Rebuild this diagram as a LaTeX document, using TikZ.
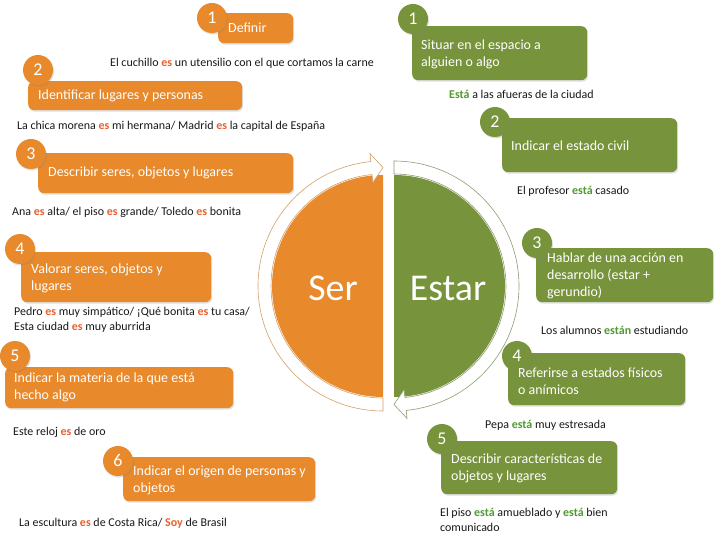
\documentclass[tikz,border=0pt]{standalone}
\usepackage{fontspec}
\setmainfont{Carlito}
\usetikzlibrary{shadows,calc}
\definecolor{sorange}{HTML}{E8892C}
\definecolor{sgreen}{HTML}{77933C}
\definecolor{esred}{HTML}{E8602F}
\definecolor{estagreen}{HTML}{4F9A2E}
\definecolor{otan}{HTML}{D4A068}
\definecolor{golive}{HTML}{8E9C70}
\newcommand{\es}[1]{\textbf{\color{esred}#1}}
\newcommand{\esta}[1]{\textbf{\color{estagreen}#1}}
\tikzset{
  boxbase/.style={anchor=north west, rounded corners=6bp, inner sep=0pt,
    drop shadow={opacity=0.25, shadow xshift=1bp, shadow yshift=-1.5bp}},
  obox/.style={boxbase, fill=sorange},
  gbox/.style={boxbase, fill=sgreen},
  boxtext/.style={anchor=west, inner sep=0pt, text=white, align=left,
    font=\fontsize{14}{17}\selectfont},
  numbase/.style={circle, minimum size=30bp, inner sep=0pt, text=white,
    font=\fontsize{18}{18}\selectfont,
    drop shadow={opacity=0.25, shadow xshift=1bp, shadow yshift=-1.5bp}},
  onum/.style={numbase, fill=sorange},
  gnum/.style={numbase, fill=sgreen},
  example/.style={anchor=west, inner sep=0pt, align=left, text=black!90,
    font=\fontsize{12}{14.5}\selectfont},
  bigword/.style={text=white, font=\fontsize{38}{38}\selectfont},
  band/.style={fill=white, line width=0.6bp}
}
\begin{document}
\begin{tikzpicture}[x=1bp, y=-1bp]
\useasboundingbox (0,0) rectangle (720,540);
\fill[white] (0,0) rectangle (720,540);
% central half discs
\coordinate (cl) at (383,286);
\coordinate (cr) at (394,286);
\fill[sorange] ($(cl)+(270:111)$) arc[start angle=270, end angle=90, radius=111] -- cycle;
\fill[sgreen] ($(cr)+(270:111)$) arc[start angle=-90, end angle=90, radius=111] -- cycle;
% circular arrows
\draw[band, draw=otan] ($(cl)+(90:112)$) -- ($(cl)+(90:125)$)
  arc[start angle=90, end angle=264.4, radius=125]
  -- ($(cl)+(264.4:133)$) -- ($(cl)+(270:118.5)$) -- ($(cl)+(264.4:104)$)
  -- ($(cl)+(264.4:112)$) arc[start angle=264.4, end angle=90, radius=112] -- cycle;
\draw[band, draw=golive] ($(cr)+(270:112)$) -- ($(cr)+(270:125)$)
  arc[start angle=-90, end angle=84.4, radius=125]
  -- ($(cr)+(84.4:133)$) -- ($(cr)+(90:118.5)$) -- ($(cr)+(84.4:104)$)
  -- ($(cr)+(84.4:112)$) arc[start angle=84.4, end angle=-90, radius=112] -- cycle;
\node[bigword] (ser) at (333,288) {Ser};
\node[bigword] (estar) at (448,288) {Estar};
% orange boxes and number circles
\node[obox, minimum width=75bp, minimum height=30bp] (o1) at (218,13) {};
\node[onum] (n1) at (212,18) {1};
\node[obox, minimum width=214bp, minimum height=29bp] (o2) at (28,81) {};
\node[onum] (n2) at (38,70) {2};
\node[obox, minimum width=255bp, minimum height=40bp] (o3) at (38,153) {};
\node[onum] (n3) at (31,154) {3};
\node[obox, minimum width=190bp, minimum height=50bp] (o4) at (21,252) {};
\node[onum] (n4) at (20,249) {4};
\node[obox, minimum width=228bp, minimum height=41bp] (o5) at (5,367) {};
\node[onum] (n5) at (15,356) {5};
\node[obox, minimum width=192bp, minimum height=44bp] (o6) at (123,457) {};
\node[onum] (n6) at (118,461) {6};
% green boxes and number circles
\node[gbox, minimum width=175bp, minimum height=54bp] (g1) at (412,26) {};
\node[gnum] (m1) at (413,19) {1};
\node[gbox, minimum width=175bp, minimum height=54bp] (g2) at (502,118) {};
\node[gnum] (m2) at (495,122) {2};
\node[gbox, minimum width=177bp, minimum height=54bp] (g3) at (536,248) {};
\node[gnum] (m3) at (537,243) {3};
\node[gbox, minimum width=177bp, minimum height=52bp] (g4) at (508,353) {};
\node[gnum] (m4) at (517,356) {4};
\node[gbox, minimum width=176bp, minimum height=53bp] (g5) at (441,441) {};
\node[gnum] (m5) at (442,439) {5};
% box texts
\node[boxtext] (t1) at ($(o1.west)+(10,0)$) {Definir};
\node[boxtext] (t2) at ($(o2.west)+(10,0)$) {Identificar lugares y personas};
\node[boxtext] (t3) at ($(o3.west)+(10,0)$) {Describir seres, objetos y lugares};
\node[boxtext] (t4) at ($(o4.west)+(10,1)$) {Valorar seres, objetos y\\lugares};
\node[boxtext] (t5) at ($(o5.west)+(9,0)$) {Indicar la materia de la que está\\hecho algo};
\node[boxtext] (t6) at ($(o6.west)+(10,1)$) {Indicar el origen de personas y\\objetos};
\node[boxtext] (u1) at ($(g1.west)+(9,1)$) {Situar en el espacio a\\alguien o algo};
\node[boxtext] (u2) at ($(g2.west)+(9,1)$) {Indicar el estado civil};
\node[boxtext] (u3) at ($(g3.west)+(11,1)$) {Hablar de una acción en\\desarrollo (estar +\\gerundio)};
\node[boxtext] (u4) at ($(g4.west)+(10,2)$) {Referirse a estados físicos\\o anímicos};
\node[boxtext] (u5) at ($(g5.west)+(10,1)$) {Describir características de\\objetos y lugares};
% examples
\node[example] (e1) at (110,63) {El cuchillo \es{es} un utensilio con el que cortamos la carne};
\node[example] (e2) at (17,126) {La chica morena \es{es} mi hermana/ Madrid \es{es} la capital de España};
\node[example] (e3) at (12,212) {Ana \es{es} alta/ el piso \es{es} grande/ Toledo \es{es} bonita};
\node[example] (e4) at (14,320) {Pedro \es{es} muy simpático/ ¡Qué bonita \es{es} tu casa/\\Esta ciudad \es{es} muy aburrida};
\node[example] (e5) at (13,432) {Este reloj \es{es} de oro};
\node[example] (e6) at (19,523) {La escultura \es{es} de Costa Rica/ \es{Soy} de Brasil};
\node[example] (f1) at (449,94) {\esta{Está} a las afueras de la ciudad};
\node[example] (f2) at (517,191) {El profesor \esta{está} casado};
\node[example] (f3) at (541,330) {Los alumnos \esta{están} estudiando};
\node[example] (f4) at (485,425) {Pepa \esta{está} muy estresada};
\node[example] (f5) at (440,520) {El piso \esta{está} amueblado y \esta{está} bien\\comunicado};
\end{tikzpicture}
\end{document}
